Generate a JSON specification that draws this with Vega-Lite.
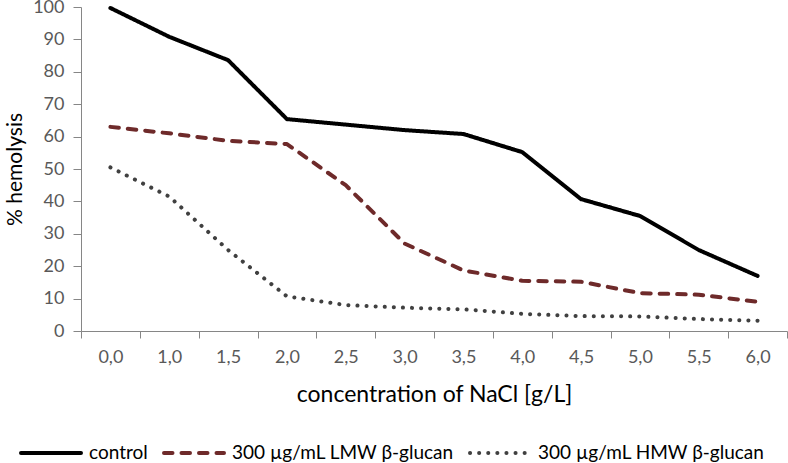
{
  "$schema": "https://vega.github.io/schema/vega-lite/v6.json",
  "width": 706,
  "height": 324,
  "autosize": "none",
  "padding": {"left": 81, "top": 7, "right": 1, "bottom": 132},
  "background": "white",
  "config": {
    "view": {"stroke": null},
    "font": "Lato",
    "axis": {"grid": false, "domainColor": "#868686", "tickColor": "#868686", "labelColor": "#595959", "labelFont": "Lato", "titleFont": "Lato", "titleFontWeight": "normal", "titleColor": "#000000"}
  },
  "data": {
    "values": [
      {"c": "0,0", "s": "control", "v": 99.7},
      {"c": "1,0", "s": "control", "v": 90.8},
      {"c": "1,5", "s": "control", "v": 83.6},
      {"c": "2,0", "s": "control", "v": 65.4},
      {"c": "2,5", "s": "control", "v": 63.7},
      {"c": "3,0", "s": "control", "v": 62},
      {"c": "3,5", "s": "control", "v": 60.8},
      {"c": "4,0", "s": "control", "v": 55.2},
      {"c": "4,5", "s": "control", "v": 40.7},
      {"c": "5,0", "s": "control", "v": 35.5},
      {"c": "5,5", "s": "control", "v": 25},
      {"c": "6,0", "s": "control", "v": 17},
      {"c": "0,0", "s": "300 µg/mL LMW β-glucan", "v": 63},
      {"c": "1,0", "s": "300 µg/mL LMW β-glucan", "v": 61},
      {"c": "1,5", "s": "300 µg/mL LMW β-glucan", "v": 58.7},
      {"c": "2,0", "s": "300 µg/mL LMW β-glucan", "v": 57.7},
      {"c": "2,5", "s": "300 µg/mL LMW β-glucan", "v": 45},
      {"c": "3,0", "s": "300 µg/mL LMW β-glucan", "v": 27},
      {"c": "3,5", "s": "300 µg/mL LMW β-glucan", "v": 18.7},
      {"c": "4,0", "s": "300 µg/mL LMW β-glucan", "v": 15.5},
      {"c": "4,5", "s": "300 µg/mL LMW β-glucan", "v": 15.2},
      {"c": "5,0", "s": "300 µg/mL LMW β-glucan", "v": 11.7},
      {"c": "5,5", "s": "300 µg/mL LMW β-glucan", "v": 11.2},
      {"c": "6,0", "s": "300 µg/mL LMW β-glucan", "v": 9},
      {"c": "0,0", "s": "300 µg/mL HMW β-glucan", "v": 50.5},
      {"c": "1,0", "s": "300 µg/mL HMW β-glucan", "v": 41.5},
      {"c": "1,5", "s": "300 µg/mL HMW β-glucan", "v": 25},
      {"c": "2,0", "s": "300 µg/mL HMW β-glucan", "v": 10.7},
      {"c": "2,5", "s": "300 µg/mL HMW β-glucan", "v": 8},
      {"c": "3,0", "s": "300 µg/mL HMW β-glucan", "v": 7.2},
      {"c": "3,5", "s": "300 µg/mL HMW β-glucan", "v": 6.7},
      {"c": "4,0", "s": "300 µg/mL HMW β-glucan", "v": 5.3},
      {"c": "4,5", "s": "300 µg/mL HMW β-glucan", "v": 4.6},
      {"c": "5,0", "s": "300 µg/mL HMW β-glucan", "v": 4.5},
      {"c": "5,5", "s": "300 µg/mL HMW β-glucan", "v": 3.7},
      {"c": "6,0", "s": "300 µg/mL HMW β-glucan", "v": 3.2}
    ]
  },
  "mark": {"type": "line", "strokeWidth": 4, "strokeCap": "round", "strokeJoin": "round"},
  "encoding": {
    "x": {
      "field": "c", "type": "ordinal", "sort": null, "bandPosition": 0.5,
      "scale": {"type": "band", "paddingInner": 0, "paddingOuter": 0},
      "axis": {"title": "concentration of NaCl [g/L]", "labelAngle": 0, "tickBand": "extent", "tickSize": 7, "labelFontSize": 18, "titleFontSize": 23, "labelPadding": 10, "titlePadding": 17}
    },
    "y": {
      "field": "v", "type": "quantitative",
      "scale": {"domain": [0, 100], "nice": false},
      "axis": {"title": "% hemolysis", "values": [0,10,20,30,40,50,60,70,80,90,100], "tickSize": 8, "labelFontSize": 18, "titleFontSize": 21, "labelPadding": 9, "titlePadding": 7}
    },
    "color": {
      "field": "s", "type": "nominal",
      "scale": {"domain": ["control", "300 µg/mL LMW β-glucan", "300 µg/mL HMW β-glucan"], "range": ["#000000", "#6e2a2a", "#404040"]},
      "legend": {"title": null, "orient": "none", "legendX": -62, "legendY": 414, "direction": "horizontal", "symbolType": "stroke", "symbolSize": 3600, "symbolStrokeWidth": 4, "labelFontSize": 19, "labelColor": "#000000", "labelLimit": 400, "columnPadding": 8, "labelOffset": 6,
        "encode": {"symbols": {"update": {"strokeCap": {"value": "round"}}}}}
    },
    "strokeDash": {
      "field": "s", "type": "nominal",
      "scale": {"domain": ["control", "300 µg/mL LMW β-glucan", "300 µg/mL HMW β-glucan"], "range": [[1, 0], [8.5, 9], [0.1, 9]]},
      "legend": null
    }
  }
}
